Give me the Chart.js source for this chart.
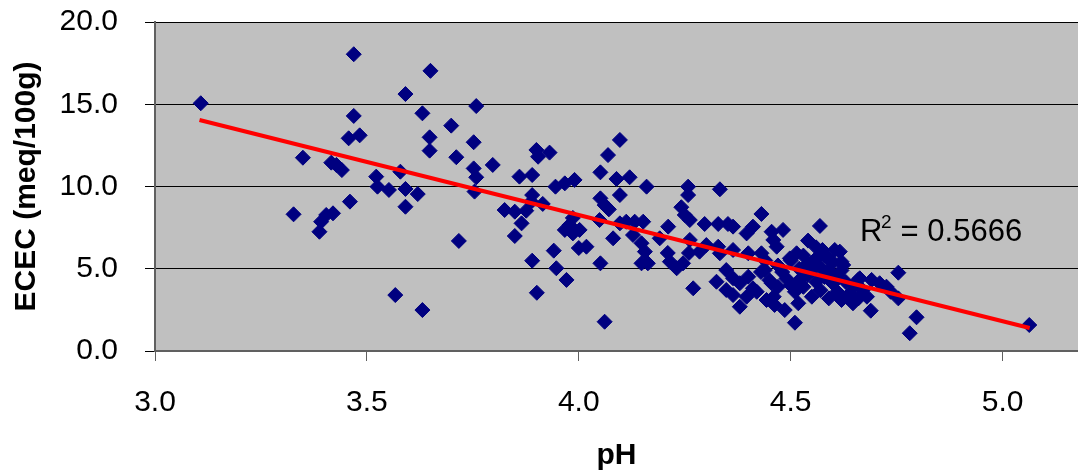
<!DOCTYPE html>
<html>
<head>
<meta charset="utf-8">
<script src="https://cdn.jsdelivr.net/npm/chart.js@4/dist/chart.umd.min.js"></script>
<style>
  html, body { margin: 0; padding: 0; background: #fff; }
  #wrap { width: 1078px; height: 471px; }
</style>
</head>
<body>
<div id="wrap"><canvas id="grafico"></canvas></div>
<script>
// pH and ECEC, point by point
const ph = [
  3.108, 3.469, 3.469, 3.457, 3.483, 3.349, 3.416, 3.428, 3.441, 3.522,
  3.525, 3.46, 3.327, 3.404, 3.42, 3.392, 3.388, 3.552, 3.591, 3.758,
  3.631, 3.699, 3.648, 3.648, 3.752, 3.711, 3.797, 3.752, 3.758, 3.754,
  3.579, 3.591, 3.62, 3.591, 3.86, 3.89, 3.9, 3.904, 3.931, 3.945,
  3.967, 3.99, 3.89, 3.888, 3.915, 3.825, 3.849, 3.876, 3.986, 3.717,
  3.567, 3.631, 3.865, 3.849, 3.978, 3.986, 3.967, 3.941, 3.89, 3.947,
  3.971, 3.901, 4.0, 3.65,
  4.097, 4.069, 4.051, 4.089, 4.12, 4.097, 4.16, 4.051, 4.061, 4.071,
  4.258, 4.258, 4.333, 4.242, 4.25, 4.262, 4.431, 4.049, 4.097, 4.112,
  4.132, 4.152, 4.211, 4.297, 4.329, 4.352, 4.364, 4.396, 4.411, 4.455,
  4.459, 4.467, 4.002, 4.018, 4.081, 4.128, 4.148, 4.191, 4.21, 4.156,
  4.262, 4.301, 4.329, 4.364, 4.4, 4.051, 4.061, 4.148, 4.163, 4.215,
  4.231, 4.246, 4.27, 4.26, 4.285, 4.325, 4.348, 4.348, 4.364, 4.38,
  4.4, 4.411, 4.38, 4.364, 4.396, 4.439, 4.455, 4.443, 4.462, 4.333,
  4.431,
  4.569, 4.541, 4.604, 4.575, 4.56, 4.588, 4.62, 4.754, 4.663, 4.691,
  4.482, 4.514, 4.498, 4.797, 4.781, 4.689, 4.51, 4.486, 4.518, 4.726,
  4.754, 4.71, 5.063, 4.736, 4.616, 4.624, 4.632, 4.647, 4.659,
  4.47, 4.48, 4.49, 4.5, 4.5, 4.51, 4.52, 4.52, 4.53, 4.53,
  4.54, 4.54, 4.55, 4.55, 4.56, 4.56, 4.57, 4.57, 4.58, 4.58,
  4.59, 4.59, 4.6, 4.6, 4.61, 4.61, 4.62, 4.62, 4.63, 4.64,
  4.65, 4.66, 4.67, 4.68, 4.46, 4.47, 4.44, 4.43, 4.45, 4.42
];
const ecec = [
  15.06, 18.04, 14.29, 12.93, 13.11, 11.75, 11.45, 11.31, 11.0, 10.6,
  9.99, 9.08, 8.31, 8.27, 8.37, 7.86, 7.25, 9.79, 15.62, 14.89,
  14.45, 13.7, 12.99, 12.18, 12.69, 11.78, 11.31, 11.1, 10.56, 9.69,
  10.9, 9.85, 9.54, 8.77, 10.6, 10.7, 12.22, 11.81, 12.06, 9.99,
  10.19, 10.4, 9.48, 9.08, 8.94, 8.57, 8.47, 8.53, 8.09, 6.69,
  3.4, 2.49, 7.76, 6.99, 7.66, 7.15, 7.36, 6.1, 5.49, 5.03,
  4.32, 3.54, 6.26, 17.03,
  12.83, 11.91, 10.86, 10.46, 10.56, 9.48, 9.99, 9.28, 8.87, 8.61,
  9.99, 9.48, 9.83, 8.74, 8.27, 7.96, 8.33, 7.96, 7.76, 7.86,
  7.86, 7.86, 7.56, 7.72, 7.72, 7.72, 7.56, 7.15, 7.56, 7.25,
  6.75, 6.34, 7.36, 6.34, 6.85, 7.05, 6.55, 6.85, 5.96, 6.04,
  6.75, 6.44, 6.34, 6.14, 5.94, 5.33, 1.78, 5.33, 5.33, 5.43,
  5.03, 5.33, 3.81, 5.96, 6.04, 4.21, 4.92, 3.71, 4.42, 4.12,
  4.52, 3.81, 2.69, 3.4, 3.3, 4.92, 4.12, 3.1, 2.8, 5.94,
  5.94,
  7.6, 6.71, 6.14, 6.14, 5.63, 5.63, 5.43, 4.76, 4.42, 4.32,
  7.36, 5.94, 5.63, 2.05, 1.08, 2.45, 1.72, 2.49, 2.9, 3.91,
  3.2, 4.12, 1.58, 3.6, 6.04, 5.23, 3.3, 2.9, 4.32,
  5.2, 4.8, 4.4, 5.5, 4.0, 3.6, 5.0, 4.3, 5.8, 3.9,
  4.6, 5.3, 3.3, 4.9, 4.2, 6.3, 5.1, 3.7, 4.5, 5.8,
  3.2, 4.9, 4.1, 5.4, 3.6, 4.6, 3.1, 4.9, 4.2, 3.5,
  4.0, 3.2, 3.7, 3.3, 3.3, 3.9, 5.5, 4.8, 4.3, 3.6
];

// linear trend line, ends
const trendPh = [3.105, 5.064];
const trendEcec = [14.04, 1.40];

const xTicks = [3.0, 3.5, 4.0, 4.5, 5.0];
const yTicks = [0, 5, 10, 15, 20];

const fonte = "'Liberation Sans', Arial, sans-serif";

const fundoPlot = {
  id: "fundoPlot",
  beforeDraw(chart) {
    const { ctx, chartArea: a } = chart;
    ctx.save();
    ctx.fillStyle = "#c0c0c0";
    ctx.fillRect(a.left, a.top, a.right - a.left, a.bottom - a.top);
    ctx.restore();
  }
};

const rotuloR2 = {
  id: "rotuloR2",
  afterDraw(chart) {
    const ctx = chart.ctx;
    ctx.save();
    ctx.fillStyle = "#000";
    ctx.textBaseline = "alphabetic";
    ctx.font = "31px " + fonte;
    ctx.fillText("R", 860, 241);
    ctx.font = "19px " + fonte;
    ctx.fillText("2", 881, 228);
    ctx.font = "31px " + fonte;
    ctx.fillText(" = 0.5666", 892, 241);
    ctx.restore();
  }
};

const pontos = ph.map((x, i) => ({ x, y: ecec[i] }));
const tendencia = trendPh.map((x, i) => ({ x, y: trendEcec[i] }));

new Chart(document.getElementById("grafico"), {
  type: "scatter",
  data: {
    datasets: [
      {
        type: "line",
        data: tendencia,
        borderColor: "#ff0000",
        borderWidth: 4,
        pointRadius: 0,
        fill: false,
        order: 0
      },
      {
        data: pontos,
        pointStyle: "rectRot",
        pointRadius: 7.5,
        pointHoverRadius: 7.5,
        backgroundColor: "#000080",
        borderColor: "#000080",
        borderWidth: 1,
        order: 1
      }
    ]
  },
  options: {
    responsive: true,
    maintainAspectRatio: false,
    animation: false,
    events: [],
    layout: { autoPadding: false, padding: { top: 22, right: 0, left: 0, bottom: 0 } },
    plugins: { legend: { display: false }, tooltip: { enabled: false } },
    scales: {
      x: {
        type: "linear",
        min: 3.0,
        max: 5.178,
        afterBuildTicks: s => { s.ticks = xTicks.map(v => ({ value: v })); },
        afterFit: s => { s.height = 120; s.paddingLeft = 0; s.paddingRight = 0; },
        ticks: {
          callback: v => Number(v).toFixed(1),
          color: "#000",
          font: { family: fonte, size: 30 },
          padding: 24,
          maxRotation: 0,
          autoSkip: false
        },
        grid: {
          drawOnChartArea: false,
          drawTicks: true,
          tickLength: 10,
          color: "#606060",
          lineWidth: 1
        },
        border: { color: "#606060", width: 2 },
        title: {
          display: true,
          text: "pH",
          color: "#000",
          font: { family: fonte, size: 30, weight: "bold", lineHeight: 1 },
          padding: 0
        }
      },
      y: {
        min: 0,
        max: 20,
        afterBuildTicks: s => { s.ticks = yTicks.map(v => ({ value: v })); },
        afterFit: s => { s.width = 155; s.paddingTop = 0; s.paddingBottom = 0; },
        ticks: {
          callback: v => Number(v).toFixed(1),
          color: "#000",
          font: { family: fonte, size: 30 },
          padding: 27
        },
        grid: {
          color: ctx => (ctx.tick && ctx.tick.value === 0 ? "rgba(0,0,0,0)" : "#000"),
          tickColor: "#000",
          tickLength: 10,
          lineWidth: 1
        },
        border: { color: "#606060", width: 2 },
        title: {
          display: true,
          text: "ECEC (meq/100g)",
          color: "#000",
          font: { family: fonte, size: 30, weight: "bold" },
          padding: { top: 9, bottom: 0 }
        }
      }
    }
  },
  plugins: [fundoPlot, rotuloR2]
});
</script>
</body>
</html>
